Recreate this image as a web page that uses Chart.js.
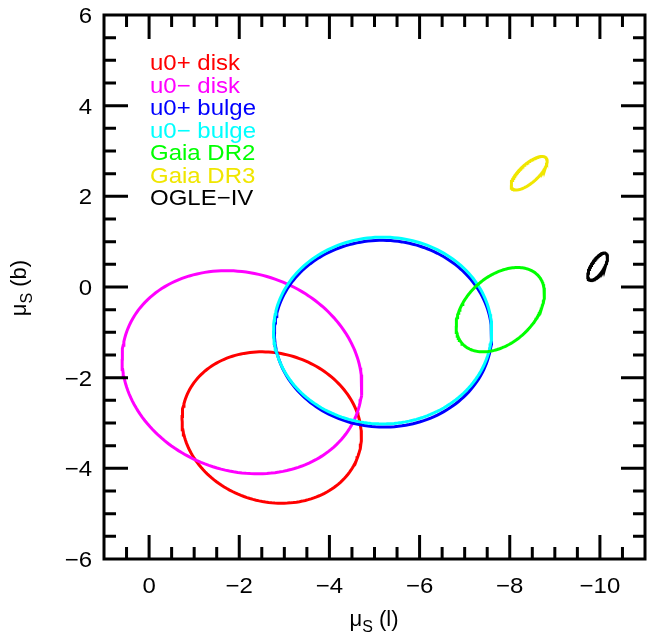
<!DOCTYPE html>
<html>
<head>
<meta charset="utf-8">
<script src="https://cdn.jsdelivr.net/npm/chart.js@4"></script>
<style>
  html, body { margin: 0; padding: 0; background: #fff; }
  canvas { display: block; }
</style>
</head>
<body>
<canvas id="grafico" width="647" height="639"></canvas>
<script>
// Elipses de movimiento propio (centro, sigma y correlacion)
const nombres = ["u0+ disk", "u0\u2212 disk", "u0+ bulge", "u0\u2212 bulge", "Gaia DR2", "Gaia DR3", "OGLE\u2212IV"];
const colores = ["#ff0000", "#ff00ff", "#0000ff", "#00ffff", "#00ff00", "#f0e600", "#000000"];
const muL = [-2.72, -2.06, -5.19, -5.18, -7.79, -8.43, -9.95];
const muB = [-3.10, -1.88, -1.03, -0.96, -0.50, 2.51, 0.45];
const sigL = [1.99, 2.66, 2.41, 2.42, 0.98, 0.40, 0.22];
const sigB = [1.67, 2.24, 2.06, 2.06, 0.93, 0.37, 0.30];
const rho = [0.11, 0.13, 0.01, 0.0, -0.39, -0.72, -0.68];
const xTicks = [0, -2, -4, -6, -8, -10];
const yTicks = [-6, -4, -2, 0, 2, 4, 6];

const fuente = "'Liberation Sans', Arial, Helvetica, sans-serif";
const estirar = 1.09; // el texto original es algo mas ancho

// Contorno de cada elipse a partir de sus parametros
function elipse(i) {
  const pts = [];
  const c = Math.sqrt(1 - rho[i] * rho[i]);
  for (let k = 0; k <= 180; k++) {
    const t = (k / 180) * 2 * Math.PI;
    pts.push({
      x: muL[i] + sigL[i] * Math.cos(t),
      y: muB[i] + sigB[i] * (rho[i] * Math.cos(t) + c * Math.sin(t)),
    });
  }
  return pts;
}

function menos(v) {
  return String(v).replace("-", "\u2212");
}

// Texto ensanchado; alinea: 0 izquierda, 0.5 centro, 1 derecha
function texto(ctx, t, x, y, alinea) {
  const w = ctx.measureText(t).width * estirar;
  ctx.save();
  ctx.translate(x - w * alinea, y);
  ctx.scale(estirar, 1);
  ctx.fillText(t, 0, 0);
  ctx.restore();
}

function tituloEje(ctx, t, x, y, rot) {
  ctx.save();
  ctx.translate(x, y);
  ctx.rotate(rot);
  ctx.fillStyle = "#000";
  ctx.textAlign = "left";
  ctx.textBaseline = "alphabetic";
  ctx.font = "22px " + fuente;
  const w1 = ctx.measureText("\u03bc").width;
  const w3 = ctx.measureText(t).width;
  ctx.font = "16px " + fuente;
  const w2 = ctx.measureText("S").width;
  const x0 = -(w1 + w2 + w3) / 2;
  ctx.font = "22px " + fuente;
  ctx.fillText("\u03bc", x0, 0);
  ctx.font = "16px " + fuente;
  ctx.fillText("S", x0 + w1, 6);
  ctx.font = "22px " + fuente;
  ctx.fillText(t, x0 + w1 + w2, 0);
  ctx.restore();
}

// Marco, marcas hacia adentro, etiquetas, leyenda y titulos
const adornos = {
  id: "adornos",
  afterDraw(chart) {
    const { ctx, chartArea: a, scales } = chart;
    const x = scales.x, y = scales.y;
    ctx.save();
    ctx.strokeStyle = "#000";
    ctx.lineWidth = 3;
    ctx.strokeRect(a.left, a.top, a.right - a.left, a.bottom - a.top);
    ctx.beginPath();
    for (let k = -21; k <= 1; k++) {
      const v = k * 0.5;
      const largo = v % 2 === 0 ? 24 : 12;
      const px = x.getPixelForValue(v);
      ctx.moveTo(px, a.bottom); ctx.lineTo(px, a.bottom - largo);
      ctx.moveTo(px, a.top); ctx.lineTo(px, a.top + largo);
    }
    for (let k = -11; k <= 11; k++) {
      const v = k * 0.5;
      const largo = v % 2 === 0 ? 24 : 12;
      const py = y.getPixelForValue(v);
      ctx.moveTo(a.left, py); ctx.lineTo(a.left + largo, py);
      ctx.moveTo(a.right, py); ctx.lineTo(a.right - largo, py);
    }
    ctx.stroke();

    ctx.fillStyle = "#000";
    ctx.font = "22px " + fuente;
    ctx.textAlign = "left";
    ctx.textBaseline = "alphabetic";
    xTicks.forEach((v) => texto(ctx, menos(v), x.getPixelForValue(v), a.bottom + 34, 0.5));
    yTicks.forEach((v) => texto(ctx, menos(v), a.left - 12, y.getPixelForValue(v) + 8, 1));

    nombres.forEach((n, i) => {
      ctx.fillStyle = colores[i];
      texto(ctx, n, 150, 70 + i * 22.5, 0);
    });
    ctx.restore();

    tituloEje(ctx, " (l)", 374, 626, 0);
    tituloEje(ctx, " (b)", 26, 288, -Math.PI / 2);
  },
};

const ctx = document.getElementById("grafico").getContext("2d");
const grafico = new Chart(ctx, {
  type: "scatter",
  data: {
    datasets: nombres.map((n, i) => ({
      label: n,
      data: elipse(i),
      showLine: true,
      borderColor: colores[i],
      borderWidth: 3,
      pointRadius: 0,
      fill: false,
      order: nombres.length - i,
    })),
  },
  options: {
    responsive: false,
    animation: false,
    devicePixelRatio: 1,
    layout: { padding: { top: 15, right: 2, left: 0, bottom: 0 } },
    plugins: { legend: { display: false }, tooltip: { enabled: false } },
    scales: {
      x: {
        type: "linear",
        min: -11,
        max: 1,
        reverse: true,
        grid: { display: false, drawTicks: false },
        border: { display: false },
        ticks: { display: false },
        afterFit: (s) => { s.height = 80; s.paddingLeft = 0; s.paddingRight = 0; },
      },
      y: {
        type: "linear",
        min: -6,
        max: 6,
        grid: { display: false, drawTicks: false },
        border: { display: false },
        ticks: { display: false },
        afterFit: (s) => { s.width = 104; s.paddingTop = 0; s.paddingBottom = 0; },
      },
    },
  },
  plugins: [adornos],
});
</script>
</body>
</html>
